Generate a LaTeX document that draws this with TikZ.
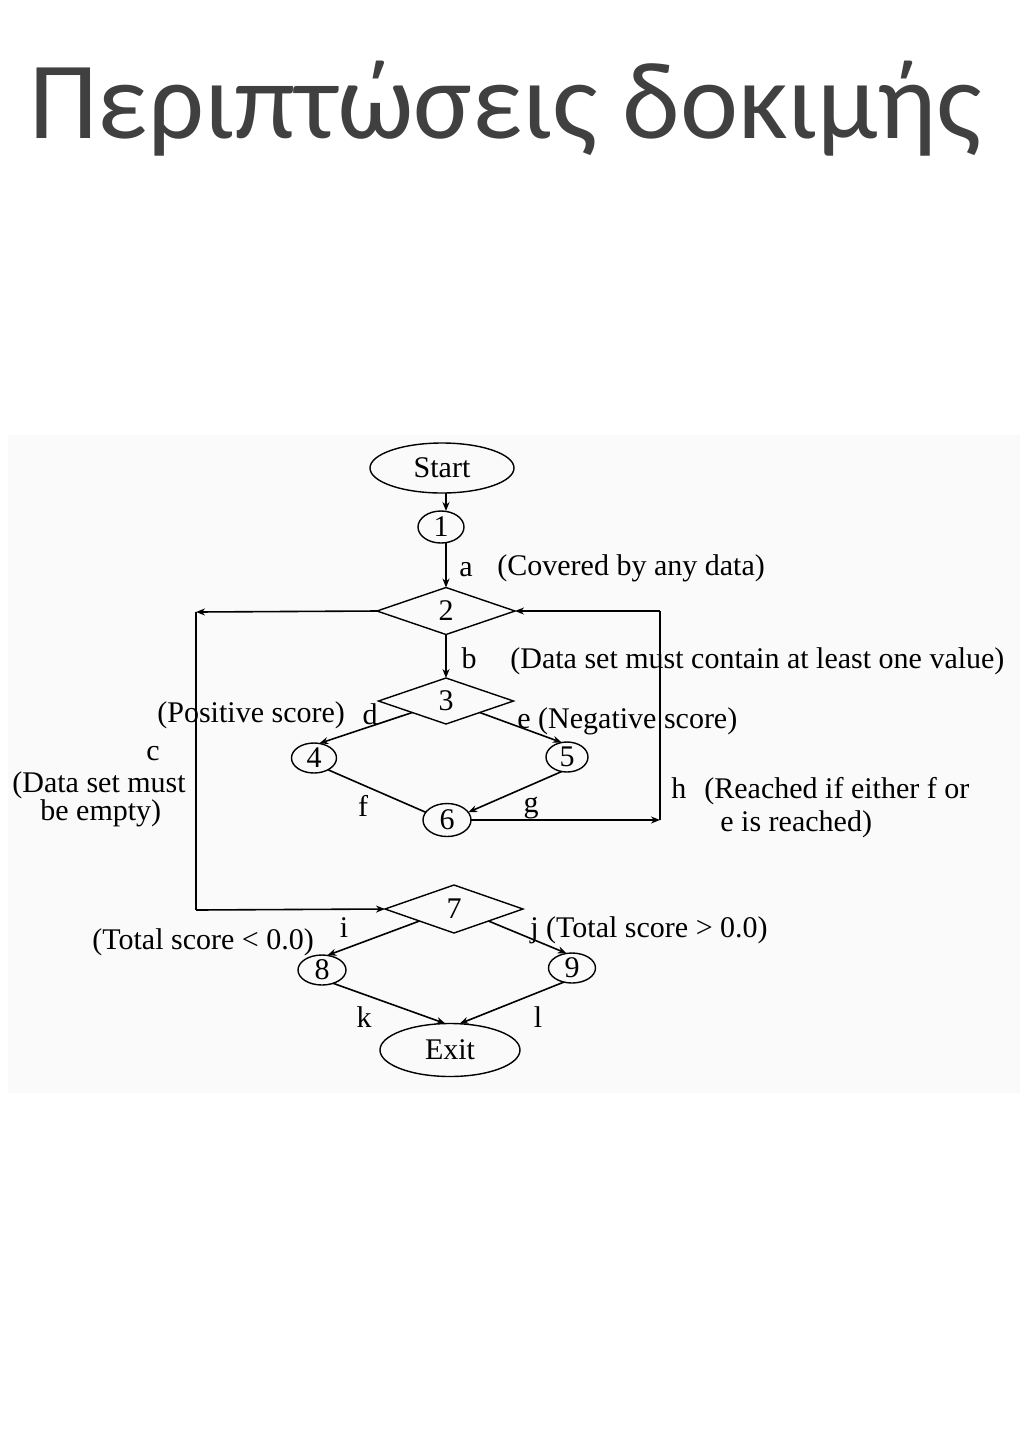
\documentclass[tikz,border=0pt]{standalone}
\usepackage{fontspec}
\setmainfont{Liberation Serif}
\newfontfamily\titlefont{Carlito}
\usetikzlibrary{shapes.geometric,arrows.meta}

\begin{document}
\begin{tikzpicture}[x=0.5pt,y=-0.5pt,
  every node/.style={font=\fontsize{15}{18}\selectfont},
  base/.style={draw=black,line width=0.7pt,inner sep=0pt,outer sep=0pt},
  oval/.style={base,ellipse},
  dia/.style={base,diamond},
  let/.style={inner sep=0pt},
  lblw/.style={inner sep=0pt,text height=0.75em,text depth=0.25em,anchor=west},
  edge/.style={line width=0.8pt},
  arr/.style={edge,-{Stealth[length=4.5pt,width=3.5pt]}}]
\useasboundingbox (0,0) rectangle (1024,1448);
% faint panel
\fill[black!2] (8,435) rectangle (1020,1093);
% title
\node[anchor=base west,inner sep=0pt,text=black!75,
      font=\titlefont\fontsize{55}{66}\selectfont] (title) at (29,138) {Περιπτώσεις δοκιμής};

% nodes
\node[oval,minimum width=72pt,minimum height=25pt] (start) at (442,468) {Start};
\node[oval,minimum width=23pt,minimum height=16pt] (n1) at (441,527) {1};
\node[dia,minimum width=69pt,minimum height=23.5pt] (n2) at (446,611) {2};
\node[dia,minimum width=67.5pt,minimum height=23pt] (n3) at (446,701) {3};
\node[oval,minimum width=22.5pt,minimum height=15pt] (n4) at (314,758) {4};
\node[oval,minimum width=21pt,minimum height=15pt] (n5) at (567,757) {5};
\node[oval,minimum width=24pt,minimum height=16.5pt] (n6) at (447,820) {6};
\node[dia,minimum width=69pt,minimum height=24pt] (n7) at (454,909) {7};
\node[oval,minimum width=24pt,minimum height=15pt] (n8) at (322,970) {8};
\node[oval,minimum width=23.5pt,minimum height=15pt] (n9) at (572,968) {9};
\node[oval,minimum width=70pt,minimum height=26.5pt] (exit) at (450,1050) {Exit};

% corner coordinates
\coordinate (cTL) at (196,612);
\coordinate (cBL) at (196,910);
\coordinate (hTR) at (660,611);
\coordinate (hBR) at (660,820);

% edges
\draw[arr] (start.south -| n2.north) -- (n1.north -| n2.north);
\draw[arr] (n1.south -| n2.north) -- (n2.north);
\draw[arr] (n2.south) -- (n3.north);
\draw[arr] (n2.west) -- (cTL);
\draw[edge] (cTL) -- (cBL);
\draw[arr] (cBL) -- (n7.west);
\draw[arr] (n3.south west) -- (n4.70);
\draw[arr] (n3.south east) -- (n5.110);
\draw[edge] (n4.-40) -- (n6.160);
\draw[arr] (n5.-110) -- (n6.20);
\draw[arr] (n6.east) -- (hBR);
\draw[edge] (hBR) -- (hTR);
\draw[arr] (hTR) -- (n2.east);
\draw[arr] (n7.south west) -- (n8.70);
\draw[arr] (n7.south east) -- (n9.110);
\draw[arr] (n8.-50) -- (exit.100);
\draw[arr] (n9.-120) -- (exit.70);

% labels
\node[let] (la) at (466,570) {a};
\node[lblw] (lat) at (497,570) {(Covered by any data)};
\node[let] (lb) at (469,658) {b};
\node[lblw] (lbt) at (510,663) {(Data set must contain at least one value)};
\node[lblw] (ldt) at (157,717) {(Positive score)};
\node[let] (ld) at (370,714) {d};
\node[lblw] (le) at (517,723) {e (Negative score)};
\node[let] (lc) at (153,754) {c};
\node[lblw] (lc1) at (12,787) {(Data set must};
\node[lblw] (lc2) at (40,815) {be empty)};
\node[let] (lf) at (363,806) {f};
\node[let] (lg) at (531,808) {g};
\node[lblw] (lh1) at (671,793) {h\hspace{0.6em}(Reached if either f or};
\node[lblw] (lh2) at (720,826) {e is reached)};
\node[let] (li) at (344,928) {i};
\node[lblw] (lit) at (92,944) {(Total score < 0.0)};
\node[lblw] (lj) at (530,932) {j (Total score > 0.0)};
\node[let] (lk) at (364,1017) {k};
\node[let] (ll) at (538,1017) {l};
\end{tikzpicture}
\end{document}
